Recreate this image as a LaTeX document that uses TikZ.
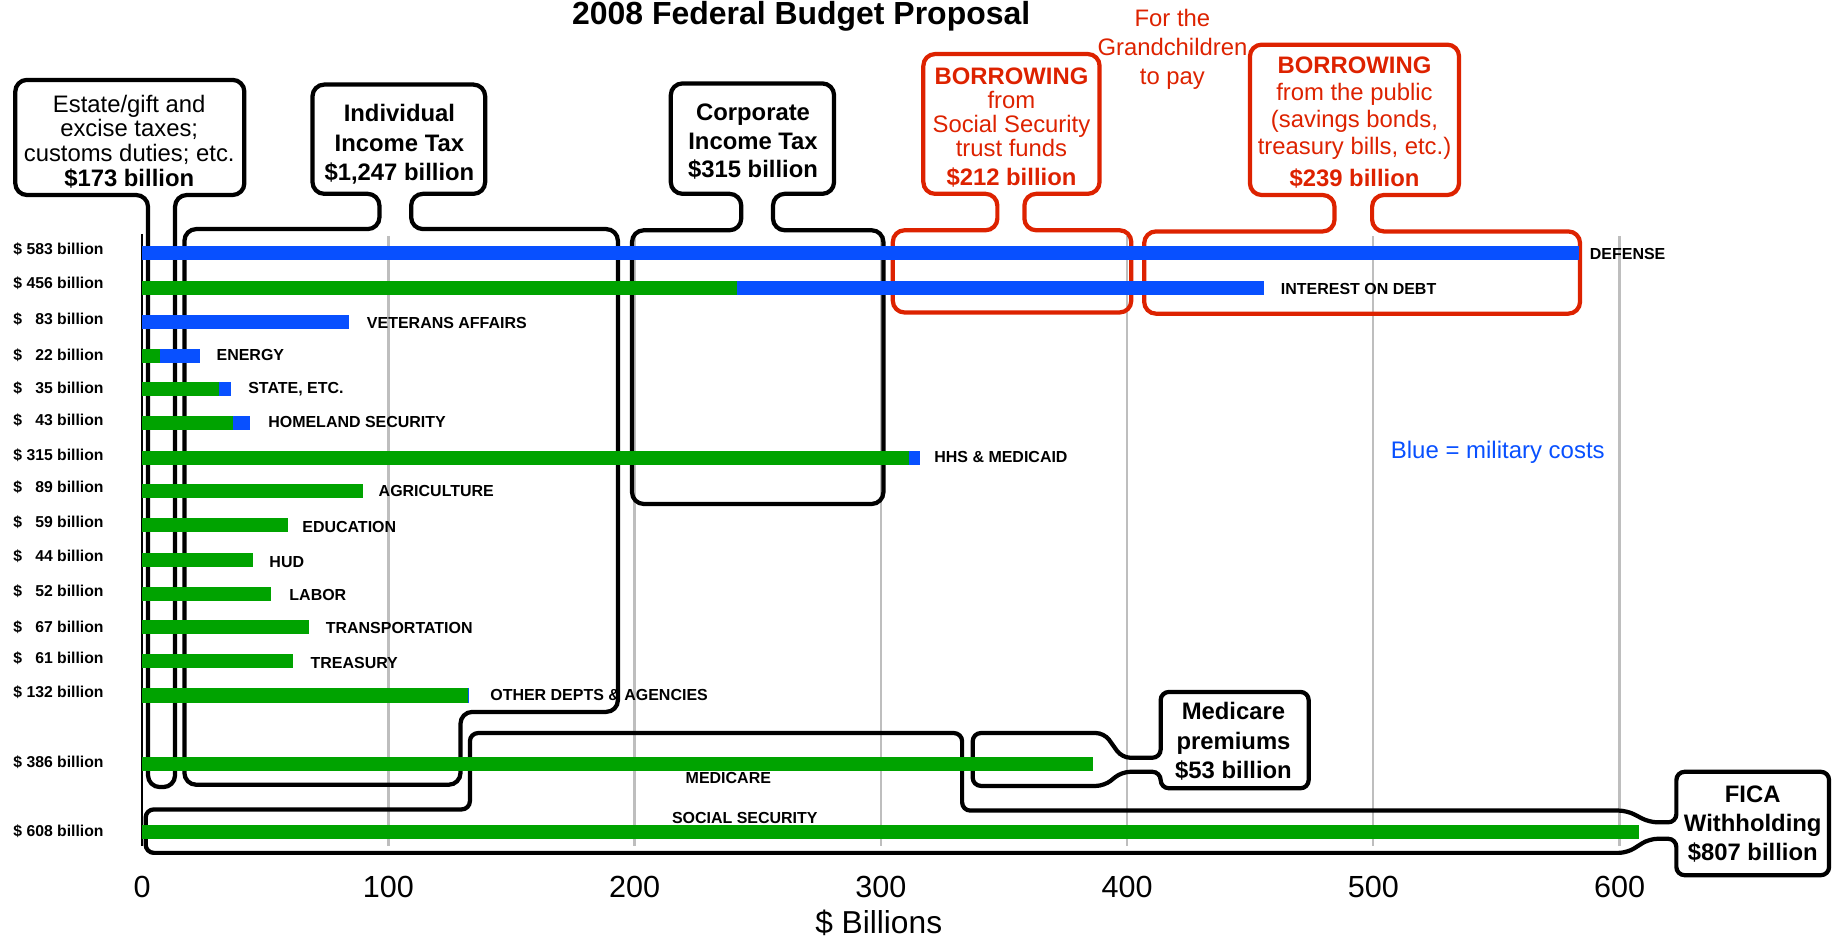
\documentclass[tikz,border=0pt]{standalone}
\usepackage{fontspec}
\setmainfont{Liberation Sans}
\definecolor{milblue}{RGB}{8,80,255}
\definecolor{civgreen}{RGB}{0,163,0}
\definecolor{loanred}{RGB}{221,34,0}
\definecolor{gridgray}{RGB}{190,190,190}

\begin{document}
\begin{tikzpicture}[x = 0.5pt, y = -0.5pt, callout/.style = { draw, line width = 1.8pt, rounded corners = 5pt }, loan/.style = { callout, draw = loanred }, neck/.style = { callout, rounded corners = 3.5pt }, gridline/.style = { draw = gridgray, line width = 1pt }, mil/.style = { fill = milblue }, civ/.style = { fill = civgreen }, boxtext/.style = { align = center, inner sep = 0 }, loantext/.style = { boxtext, text = loanred }, value/.style = { anchor = base west, inner sep = 0, font = \bfseries\fontsize{6.7}{8}\selectfont }, dept/.style = { anchor = base west, inner sep = 0, font = \bfseries\fontsize{6.8}{8}\selectfont }, tick/.style = { anchor = base, inner sep = 0, font = \fontsize{13}{15}\selectfont }]
				\useasboundingbox (0,0) rectangle (1568,798);

				\node [anchor = base, inner sep = 0, font = \bfseries\fontsize{13.6}{16}\selectfont] (title) at (682,21) {2008 Federal Budget Proposal};

				\draw [gridline] (330.6,201) -- (330.6,720);
				\draw [gridline] (540.2,201) -- (540.2,720);
				\draw [gridline] (749.8,201) -- (749.8,720);
				\draw [gridline] (959.4,201) -- (959.4,720);
				\draw [gridline] (1169,201) -- (1169,720);
				\draw [gridline] (1378.6,201) -- (1378.6,720);
				\draw [line width = 0.8pt] (121,199) -- (121,720);

				\draw [callout] (13,166) -- (126,166) -- (126,670) -- (149,670) -- (149,166) -- (208,166) -- (208,68) -- (13,68) -- cycle;
				\draw [callout] (266,165) -- (323,165) -- (323,195) -- (157,195) -- (157,668) -- (392,668) -- (392,606) -- (526,606) -- (526,195) -- (350,195) -- (350,165) -- (413,165) -- (413,72) -- (266,72) -- cycle;
				\draw [callout] (571,165) -- (631,165) -- (631,196) -- (538,196) -- (538,429) -- (752,429) -- (752,196) -- (658,196) -- (658,165) -- (710,165) -- (710,71) -- (571,71) -- cycle;
				\draw [loan] (786,165) -- (849,165) -- (849,196) -- (760,196) -- (760,266) -- (963,266) -- (963,196) -- (872,196) -- (872,165) -- (936,165) -- (936,46) -- (786,46) -- cycle;
				\draw [loan] (1064,166) -- (1136,166) -- (1136,197) -- (974,197) -- (974,267) -- (1345,267) -- (1345,197) -- (1168,197) -- (1168,166) -- (1242,166) -- (1242,38) -- (1064,38) -- cycle;
				\draw [neck] (1114,589) -- (988,589) -- (988,645) -- (955,645) -- (940,624) -- (828,624) -- (828,669) -- (940,669) -- (955,657) -- (988,657) -- (988,671) -- (1114,671) -- cycle;
				\draw [neck] (1557,657) -- (1427,657) -- (1427,700) -- (1404,700) -- (1385,690) -- (819,690) -- (819,624) -- (400,624) -- (400,689) -- (124,689) -- (124,726) -- (1385,726) -- (1404,714) -- (1427,714) -- (1427,745) -- (1557,745) -- cycle;

				\fill [mil] (121,209) rectangle (1344,221);
				\fill [civ] (121,239) rectangle (627,251);
				\fill [mil] (627,239) rectangle (1076,251);
				\fill [mil] (121,268) rectangle (297,280);
				\fill [civ] (121,297) rectangle (136,309);
				\fill [mil] (136,297) rectangle (170,309);
				\fill [civ] (121,325) rectangle (186,337);
				\fill [mil] (186,325) rectangle (197,337);
				\fill [civ] (121,354) rectangle (198,366);
				\fill [mil] (198,354) rectangle (213,366);
				\fill [civ] (121,384) rectangle (774,396);
				\fill [mil] (774,384) rectangle (783,396);
				\fill [civ] (121,412) rectangle (309,424);
				\fill [civ] (121,441) rectangle (245,453);
				\fill [civ] (121,471) rectangle (215,483);
				\fill [civ] (121,500) rectangle (231,512);
				\fill [civ] (121,528) rectangle (263,540);
				\fill [civ] (121,557) rectangle (249,569);
				\fill [civ] (121,586) rectangle (398,598);
				\fill [mil] (398,586) rectangle (399.5,598);
				\fill [civ] (121,644) rectangle (930,656);
				\fill [civ] (121,702) rectangle (1395,714);

				\node [value] (v583) at (11,217) {\$ 583 billion};
				\node [value] (v456) at (11,246) {\$ 456 billion};
				\node [value] (v83) at (11,276) {\$ \phantom{0}83 billion};
				\node [value] (v22) at (11,307) {\$ \phantom{0}22 billion};
				\node [value] (v35) at (11,335) {\$ \phantom{0}35 billion};
				\node [value] (v43) at (11,362) {\$ \phantom{0}43 billion};
				\node [value] (v315) at (11,392) {\$ 315 billion};
				\node [value] (v89) at (11,419) {\$ \phantom{0}89 billion};
				\node [value] (v59) at (11,449) {\$ \phantom{0}59 billion};
				\node [value] (v44) at (11,478) {\$ \phantom{0}44 billion};
				\node [value] (v52) at (11,508) {\$ \phantom{0}52 billion};
				\node [value] (v67) at (11,538) {\$ \phantom{0}67 billion};
				\node [value] (v61) at (11,565) {\$ \phantom{0}61 billion};
				\node [value] (v132) at (11,594) {\$ 132 billion};
				\node [value] (v386) at (11,653) {\$ 386 billion};
				\node [value] (v608) at (11,712) {\$ 608 billion};

				\node [dept] (defense) at (1353,221) {DEFENSE};
				\node [dept] (interest) at (1090,251) {INTEREST ON DEBT};
				\node [dept] (veterans) at (312,280) {VETERANS AFFAIRS};
				\node [dept] (energy) at (184,307) {ENERGY};
				\node [dept] (state) at (211,335) {STATE, ETC.};
				\node [dept] (homeland) at (228,364) {HOMELAND SECURITY};
				\node [dept] (hhs) at (795,394) {HHS \& MEDICAID};
				\node [dept] (agriculture) at (322,423) {AGRICULTURE};
				\node [dept] (education) at (257,453) {EDUCATION};
				\node [dept] (hud) at (229,483) {HUD};
				\node [dept] (labor) at (246,511) {LABOR};
				\node [dept] (transport) at (277,539) {TRANSPORTATION};
				\node [dept] (treasury) at (264,569) {TREASURY};
				\node [dept] (other) at (417,596) {OTHER DEPTS \& AGENCIES};
				\node [dept, anchor = base] (medicare) at (620,667) {MEDICARE};
				\node [dept, anchor = base] (socsec) at (634,701) {SOCIAL SECURITY};

				\node [boxtext, font = \fontsize{10.15}{10.5}\selectfont] (estate) at (110,120.5) {Estate/gift and\\excise taxes;\\customs duties; etc.\\\textbf{\$173 billion}};
				\node [boxtext, font = \bfseries\fontsize{10.15}{12.5}\selectfont] (income) at (340,123) {Individual\\Income Tax\\\$1,247 billion};
				\node [boxtext, font = \bfseries\fontsize{10.15}{12}\selectfont] (corporate) at (641,120.5) {Corporate\\Income Tax\\\$315 billion};
				\node [loantext, font = \fontsize{10.15}{10.25}\selectfont] (trustloan) at (861,108.5) {\textbf{BORROWING}\\from\\Social Security\\trust funds\\[2pt]\textbf{\$212 billion}};
				\node [loantext, font = \fontsize{10.15}{11.5}\selectfont] (publicloan) at (1153,104) {\textbf{BORROWING}\\from the public\\(savings bonds,\\treasury bills, etc.)\\[2pt]\textbf{\$239 billion}};
				\node [loantext, font = \fontsize{10.15}{12.25}\selectfont] (grandkids) at (998,42) {For the\\Grandchildren\\to pay};
				\node [boxtext, font = \bfseries\fontsize{10.15}{12.5}\selectfont] (premiums) at (1050,631) {Medicare\\premiums\\\$53 billion};
				\node [boxtext, font = \bfseries\fontsize{10.15}{12.5}\selectfont] (fica) at (1492,701.5) {FICA\\Withholding\\\$807 billion};
				\node [boxtext, text = milblue, font = \fontsize{10.2}{12}\selectfont] (military) at (1275,385) {Blue = military costs};

				\node [tick] (t0) at (121,764) {0};
				\node [tick] (t100) at (330.6,764) {100};
				\node [tick] (t200) at (540.2,764) {200};
				\node [tick] (t300) at (749.8,764) {300};
				\node [tick] (t400) at (959.4,764) {400};
				\node [tick] (t500) at (1169,764) {500};
				\node [tick] (t600) at (1378.6,764) {600};
				\node [tick, font = \fontsize{13.5}{16}\selectfont] (xlabel) at (748,795) {\$ Billions};
			\end{tikzpicture}
\end{document}
